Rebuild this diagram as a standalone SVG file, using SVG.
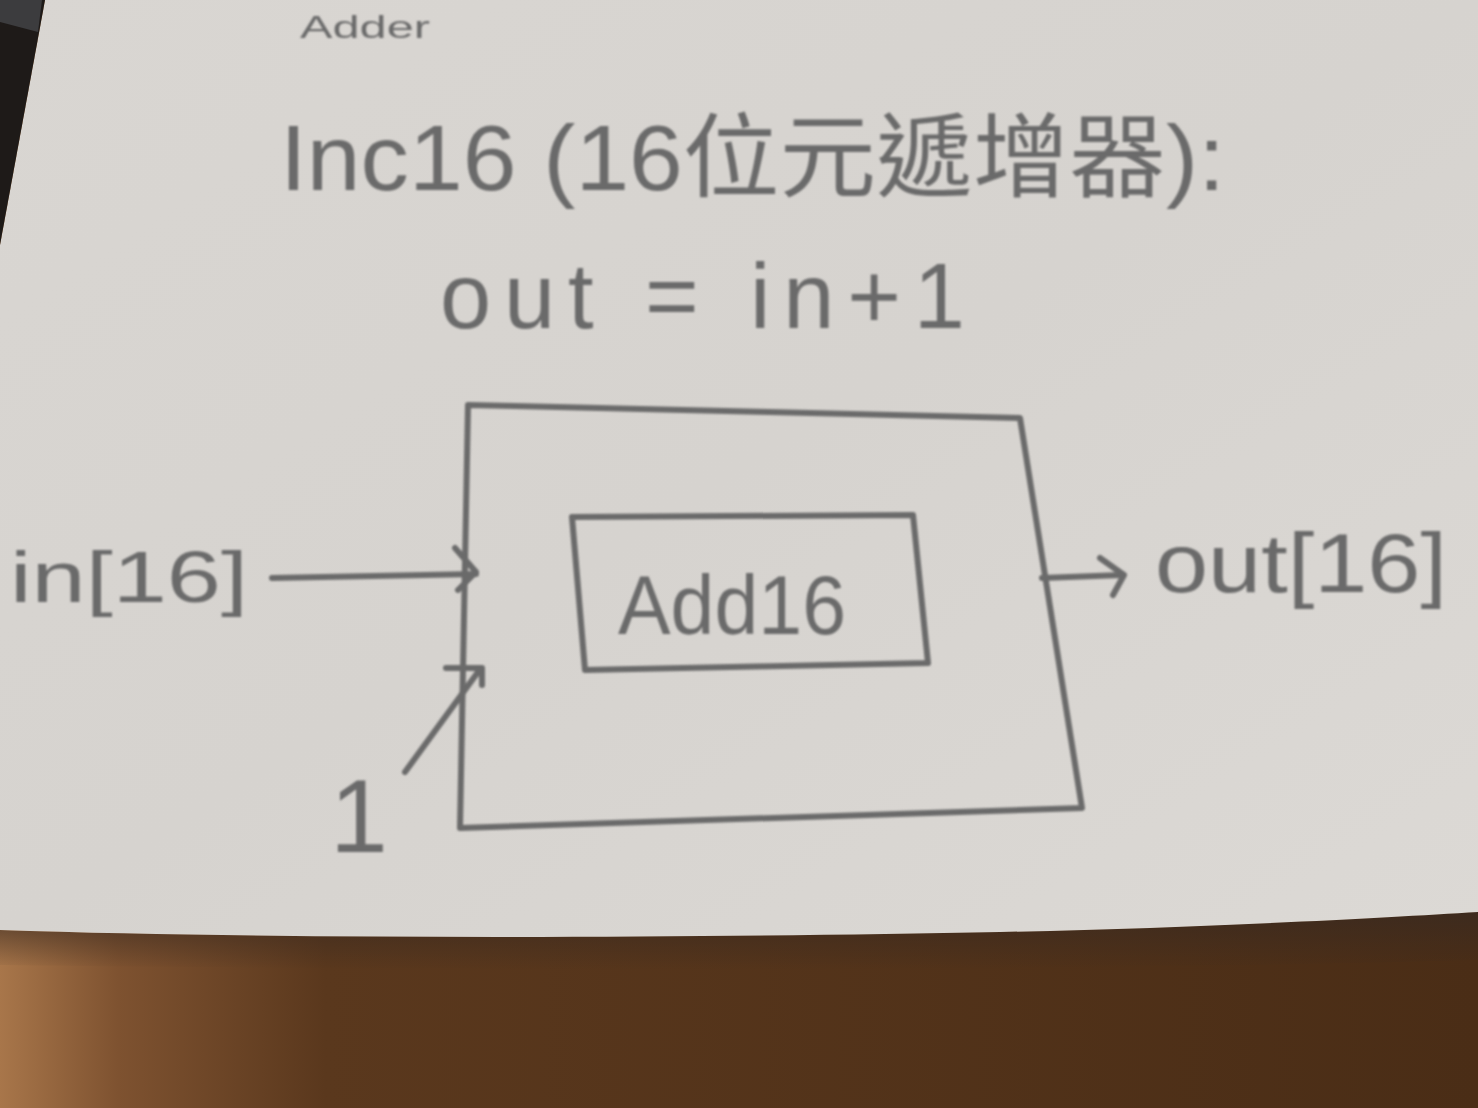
<svg xmlns="http://www.w3.org/2000/svg" width="1478" height="1108" viewBox="0 0 1478 1108">
  <defs>
    <linearGradient id="wood" x1="0" y1="0" x2="1" y2="0">
      <stop offset="0" stop-color="#a8764a"/>
      <stop offset="0.08" stop-color="#7e5230"/>
      <stop offset="0.22" stop-color="#5a381d"/>
      <stop offset="1" stop-color="#4a2d16"/>
    </linearGradient>
    <linearGradient id="paper" x1="0" y1="0" x2="1" y2="1">
      <stop offset="0" stop-color="#d9d6d2"/>
      <stop offset="0.5" stop-color="#d6d3cf"/>
      <stop offset="1" stop-color="#dcd9d5"/>
    </linearGradient>
    <linearGradient id="shadow" x1="0" y1="0" x2="0" y2="1">
      <stop offset="0" stop-color="#3a2a20" stop-opacity="0.8"/>
      <stop offset="1" stop-color="#3a2a20" stop-opacity="0"/>
    </linearGradient>
    <filter id="soft" x="-5%" y="-5%" width="110%" height="110%">
      <feGaussianBlur stdDeviation="1.2"/>
    </filter>
    <style>
      .pen { fill: none; stroke: #6b6b6b; stroke-width: 6; stroke-linecap: round; stroke-linejoin: round; }
      .hand { fill: #6a6a6a; font-family: "Liberation Sans", "Noto Sans CJK TC", sans-serif; }
    </style>
  </defs>

  <!-- background scene -->
  <rect x="0" y="0" width="1478" height="1108" fill="url(#wood)"/>
  <path d="M0,930 C300,940 700,938 1000,932 C1200,928 1380,918 1478,912 L1478,960 C1300,965 800,975 0,965 Z" fill="url(#shadow)"/>
  <path d="M45,0 L1478,0 L1478,912 C1380,918 1200,928 1000,932 C700,938 300,940 0,930 L0,245 Z" fill="url(#paper)"/>
  <path d="M0,0 L45,0 L0,245 Z" fill="#1e1a18"/>
  <path d="M0,0 L42,0 L38,32 L0,22 Z" fill="#3c3c3e"/>

  <g filter="url(#soft)">
    <!-- partially visible text at top -->
    <text class="hand" x="300" y="38" font-size="32" textLength="130" lengthAdjust="spacingAndGlyphs">Adder</text>

    <!-- title -->
    <g id="title">
      <text class="hand" x="280" y="190" font-size="92" textLength="945" lengthAdjust="spacingAndGlyphs">Inc16 (16位元遞增器):</text>
    </g>
    <g id="formula">
      <text class="hand" x="440" y="328" font-size="92" textLength="525" lengthAdjust="spacing">out = in+1</text>
    </g>

    <!-- outer Inc16 block -->
    <g id="inc16">
      <path class="pen" d="M468,405 L1020,418 L1082,808 L460,828 Z"/>
    </g>

    <!-- inner Add16 block -->
    <g id="add16">
      <path class="pen" d="M572,517 L913,515 L928,663 L585,670 Z"/>
      <text class="hand" x="618" y="634" font-size="84" textLength="228" lengthAdjust="spacingAndGlyphs">Add16</text>
    </g>

    <!-- labels -->
    <g id="in16">
      <text class="hand" x="10" y="602" font-size="72" textLength="238" lengthAdjust="spacingAndGlyphs">in[16]</text>
    </g>
    <g id="one">
      <text class="hand" x="330" y="852" font-size="104">1</text>
    </g>
    <g id="out16">
      <text class="hand" x="1155" y="592" font-size="84" textLength="292" lengthAdjust="spacingAndGlyphs">out[16]</text>
    </g>

    <!-- connectors -->
    <g id="connectors">
      <path class="pen" d="M272,578 L476,574"/>
      <path class="pen" d="M455,548 L476,572 L458,590"/>
      <path class="pen" d="M405,772 L478,672"/>
      <path class="pen" d="M446,668 L482,668 L482,685"/>
      <path class="pen" d="M1042,578 L1122,575"/>
      <path class="pen" d="M1100,558 L1124,575 L1113,595"/>
    </g>
  </g>
</svg>
